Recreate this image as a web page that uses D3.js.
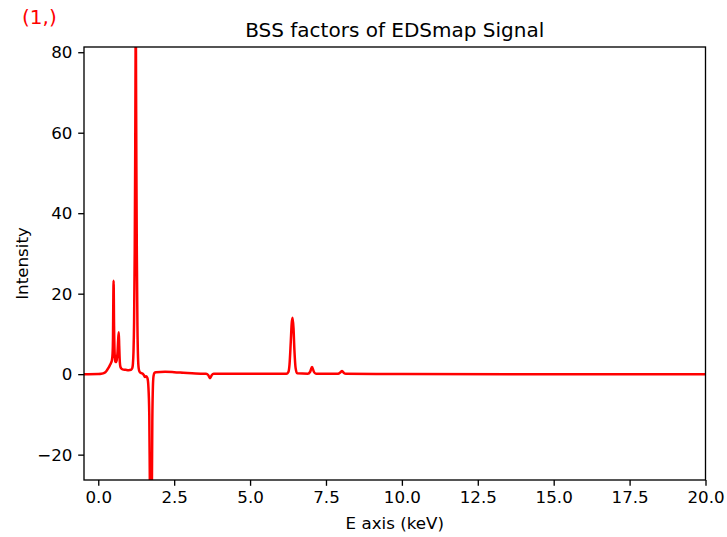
<!DOCTYPE html>
<html>
<head>
<meta charset="utf-8">
<script src="https://cdn.jsdelivr.net/npm/d3@7"></script>
<style>
  html, body { margin: 0; padding: 0; background: #fff; }
  svg { display: block; font-family: "DejaVu Sans", sans-serif; }
</style>
</head>
<body>
<svg id="chart" width="727" height="537"></svg>
<script>
// ---- data ----
const title = "BSS factors of EDSmap Signal";
const componentLabel = "(1,)";
const xLabel = "E axis (keV)";
const yLabel = "Intensity";
const xDomain = [-0.47, 20];
const yDomain = [-26.3, 81.3];
const xTicks = [0, 2.5, 5, 7.5, 10, 12.5, 15, 17.5, 20];
const yTicks = [-20, 0, 20, 40, 60, 80];

const energy = [
  -0.47, 0.0, 0.1, 0.2, 0.27, 0.33, 0.38, 0.42, 0.45, 0.47, 0.485, 0.495, 0.505, 0.52, 0.54, 0.56,
  0.58, 0.61, 0.635, 0.655, 0.675, 0.69, 0.71, 0.73, 0.76, 0.8, 0.9, 1.0, 1.08, 1.12,
  1.14, 1.16, 1.18, 1.20, 1.215, 1.225, 1.235, 1.245, 1.255, 1.27, 1.29, 1.31, 1.33, 1.36,
  1.40, 1.45, 1.50, 1.54, 1.58, 1.62, 1.65, 1.68, 1.70, 1.72, 1.74, 1.76, 1.78, 1.80,
  1.82, 1.85, 1.9, 2.2, 2.5, 2.8, 3.2, 3.55, 3.62, 3.68, 3.74, 3.8, 4.5, 6.2,
  6.26, 6.30, 6.34, 6.37, 6.40, 6.43, 6.46, 6.50, 6.55, 6.9, 6.98, 7.04, 7.10, 7.17,
  7.9, 7.98, 8.03, 8.09, 8.16, 10, 14, 20
];
const intensity = [
  0.0, 0.05, 0.1, 0.3, 0.8, 1.5, 2.2, 2.8, 3.5, 5.0, 9.0, 18, 23.2, 12, 5.0, 3.2,
  3.0, 3.6, 5.5, 8.5, 10.4, 7.0, 3.0, 1.8, 1.4, 1.2, 1.1, 1.0, 1.1, 1.5,
  2.5, 5.5, 13, 30, 52, 72, 92, 72, 52, 30, 12, 4, 1.5, 0.6,
  0.3, 0.2, -0.2, -0.7, -0.5, -1.0, -3.0, -10, -28, -40, -45, -35, -12, -3,
  -0.5, 0.3, 0.5, 0.6, 0.5, 0.35, 0.15, 0.1, -0.2, -1.0, -0.2, 0.1, 0.1, 0.1,
  0.5, 2.5, 8.0, 12.5, 14.0, 11.5, 6.0, 1.5, 0.2, 0.1, 0.6, 1.8, 0.6, 0.1,
  0.1, 0.5, 0.8, 0.3, 0.1, 0.05, 0.0, 0.0
];

// ---- layout ----
const svg = d3.select("#chart");
const margin = { left: 84, right: 727 - 705.5, top: 47, bottom: 537 - 480 };
const W = 727, H = 537;
const x = d3.scaleLinear().domain(xDomain).range([margin.left, W - margin.right]);
const y = d3.scaleLinear().domain(yDomain).range([H - margin.bottom, margin.top]);

svg.append("defs").append("clipPath").attr("id", "clip")
  .append("rect")
  .attr("x", margin.left).attr("y", margin.top)
  .attr("width", W - margin.right - margin.left)
  .attr("height", H - margin.bottom - margin.top);

const pts = energy.map((e, i) => [e, intensity[i]]);
const line = d3.line().x(d => x(d[0])).y(d => y(d[1])).curve(d3.curveMonotoneX);

svg.append("path")
  .datum(pts)
  .attr("clip-path", "url(#clip)")
  .attr("fill", "none")
  .attr("stroke", "#ff0000")
  .attr("stroke-width", 2.5)
  .attr("stroke-linejoin", "round")
  .attr("d", line);

// axes
const tickLen = 5.8;
const xAxis = d3.axisBottom(x).tickValues(xTicks).tickFormat(d3.format(".1f"))
  .tickSizeInner(tickLen).tickSizeOuter(0).tickPadding(5.8);
const yAxis = d3.axisLeft(y).tickValues(yTicks).tickFormat(d3.format("d"))
  .tickSizeInner(tickLen).tickSizeOuter(0).tickPadding(5.8);

const gx = svg.append("g").attr("transform", `translate(0,${H - margin.bottom})`).call(xAxis);
const gy = svg.append("g").attr("transform", `translate(${margin.left},0)`).call(yAxis);
[gx, gy].forEach(g => {
  g.selectAll("text").attr("font-size", 16.7).attr("fill", "#000")
    .attr("font-family", "DejaVu Sans, sans-serif");
  g.selectAll("line").attr("stroke", "#000").attr("stroke-width", 1.33);
  g.select(".domain").remove();
});
gy.selectAll("text").text(d => d < 0 ? "\u2212" + Math.abs(d) : d);

// frame
svg.append("rect")
  .attr("x", margin.left).attr("y", margin.top)
  .attr("width", W - margin.right - margin.left)
  .attr("height", H - margin.bottom - margin.top)
  .attr("fill", "none").attr("stroke", "#000").attr("stroke-width", 1.33);

// labels
svg.append("text").attr("x", (margin.left + W - margin.right) / 2).attr("y", 37)
  .attr("text-anchor", "middle").attr("font-size", 20).attr("fill", "#000").text(title);
svg.append("text").attr("x", 22).attr("y", 24)
  .attr("text-anchor", "start").attr("font-size", 20).attr("fill", "#ff0000").text(componentLabel);
svg.append("text").attr("x", (margin.left + W - margin.right) / 2).attr("y", 529)
  .attr("text-anchor", "middle").attr("font-size", 16.7).attr("fill", "#000").text(xLabel);
svg.append("text").attr("transform", `translate(28,${(margin.top + H - margin.bottom) / 2}) rotate(-90)`)
  .attr("text-anchor", "middle").attr("font-size", 16.7).attr("fill", "#000").text(yLabel);
</script>
</body>
</html>
